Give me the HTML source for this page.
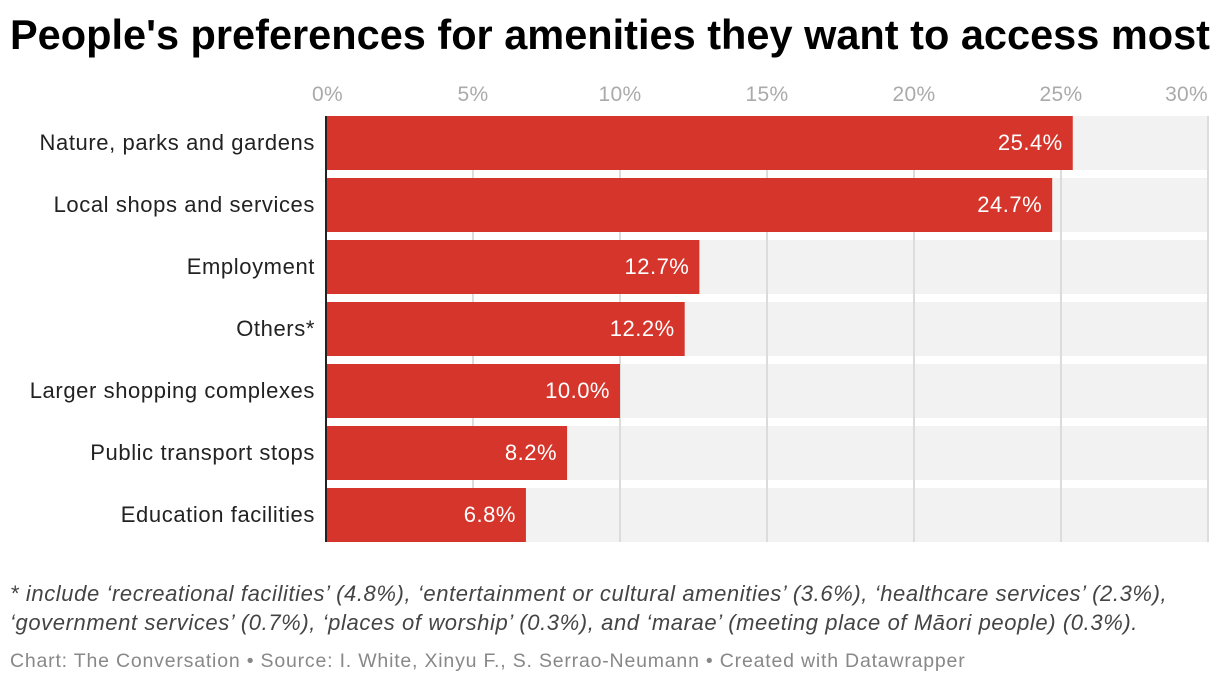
<!DOCTYPE html>
<html><head><meta charset="utf-8"><style>
body{margin:0;background:#fff;font-family:"Liberation Sans",sans-serif;}
#wrap{position:relative;width:1220px;height:684px;overflow:hidden}
h1{position:absolute;left:10px;top:11px;margin:0;font-size:41.5px;font-weight:bold;color:#000;white-space:nowrap}
.note{position:absolute;left:10px;font-size:22px;letter-spacing:0.6px;font-style:italic;color:#444;white-space:nowrap}
.foot{position:absolute;left:10px;top:650px;font-size:19.5px;letter-spacing:0.8px;color:#888;white-space:nowrap}
</style></head><body>
<div id="wrap">
<h1>People's preferences for amenities they want to access most</h1>
<svg id="c" width="1220" height="684" style="position:absolute;left:0;top:0"></svg>
<div class="note" style="top:581px">* include ‘recreational facilities’ (4.8%), ‘entertainment or cultural amenities’ (3.6%), ‘healthcare services’ (2.3%),</div>
<div class="note" style="top:610px">‘government services’ (0.7%), ‘places of worship’ (0.3%), and ‘marae’ (meeting place of Māori people) (0.3%).</div>
<div class="foot">Chart: The Conversation • Source: I. White, Xinyu F., S. Serrao-Neumann • Created with Datawrapper</div>
</div>
<script>
const categories=["Nature, parks and gardens","Local shops and services","Employment","Others*","Larger shopping complexes","Public transport stops","Education facilities"];
const values=[25.4,24.7,12.7,12.2,10.0,8.2,6.8];
const ticks=[0,5,10,15,20,25,30];
const svg=document.getElementById('c');
const NS='http://www.w3.org/2000/svg';
const x0=326,x1=1208,xmax=30;
const x=v=>x0+(v/xmax)*(x1-x0);
const top0=116,pitch=62,bh=54;
const y=i=>top0+i*pitch;
function mk(t,a){const e=document.createElementNS(NS,t);for(const k in a)e.setAttribute(k,a[k]);svg.appendChild(e);return e;}
categories.forEach((c,i)=>{
  const bg=mk('rect',{x:x0,y:y(i),width:x1-x0,height:bh,fill:'#f2f2f2'});
  
  
});
ticks.forEach(t=>{
  if(t>0){const g=mk('line',{x1:x(t),x2:x(t),y1:top0,y2:y(categories.length-1)+bh,stroke:'#dcdcdc','stroke-width':2});
  
  }
  const tx=mk('text',{x:x(t),y:101,fill:'#aaa','font-size':21,'letter-spacing':0.3,'text-anchor':t===0?'start':(t===30?'end':'middle')});
  if(t===0)tx.setAttribute('x',x(t)-14);
  tx.textContent=t+'%';
  
  
});
categories.forEach((c,i)=>{
  const r=mk('rect',{x:x0,y:y(i),width:x(values[i])-x0,height:bh,fill:'#d5352b'});
  
  
  const l=mk('text',{x:315,y:y(i)+bh/2+7,'font-size':22,'letter-spacing':0.6,fill:'#222','text-anchor':'end'});
  l.textContent=c;
  
  
  const v=mk('text',{x:x(values[i])-10,y:y(i)+bh/2+7,'font-size':22,'letter-spacing':0.5,fill:'#fff','text-anchor':'end'});
  v.textContent=values[i].toFixed(1)+'%';
  
  
});
const ax=mk('line',{x1:x0,x2:x0,y1:top0,y2:y(categories.length-1)+bh,stroke:'#222','stroke-width':2});


</script>
</body></html>
